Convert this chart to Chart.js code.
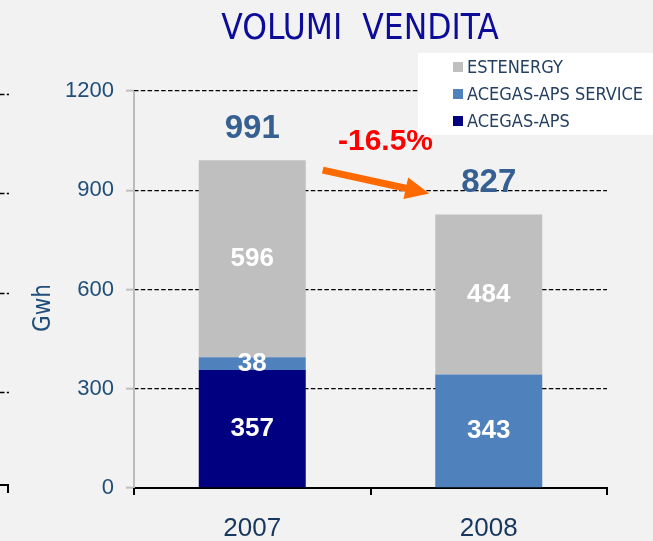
<!DOCTYPE html>
<html>
<head>
<meta charset="utf-8">
<script src="https://cdn.jsdelivr.net/npm/chart.js@4.4.1/dist/chart.umd.min.js"></script>
<style>
  html, body { margin: 0; padding: 0; background: #f2f2f2; }
  #wrap { width: 653px; height: 541px; position: relative; }
</style>
</head>
<body>
<div id="wrap"><canvas id="chart"></canvas></div>
<script>
// data
const years = ['2007', '2008'];
const seriesNames = ['ACEGAS-APS', 'ACEGAS-APS SERVICE', 'ESTENERGY'];
const acegasAps = [357, 0];
const acegasApsService = [38, 343];
const estenergy = [596, 484];
const yTicks = [0, 300, 600, 900, 1200];
const changeLabel = '-16.5%';
const chartTitle = 'VOLUMI  VENDITA';
const axisTitle = 'Gwh';

const seriesColors = ['#000080', '#4f81bd', '#bfbfbf'];
const NARROW = '"Liberation Sans Narrow", "DejaVu Sans Condensed", "Liberation Sans", sans-serif';
const SANS = '"Liberation Sans", Arial, sans-serif';

const totals = years.map((y, i) => acegasAps[i] + acegasApsService[i] + estenergy[i]);

// everything drawn on top of the bars: axis line, title, labels, arrow, legend
const overlay = {
    id: 'overlay',
    afterDraw(chart) {
        const ctx = chart.ctx;
        const yScale = chart.scales.y;
        const area = chart.chartArea;
        ctx.save();

        // grey y axis line
        ctx.fillStyle = '#bcbcbc';
        ctx.fillRect(Math.round(area.left) - 1, Math.round(area.top), 2, Math.round(area.bottom - area.top));

        // title
        ctx.fillStyle = '#0c0c99';
        ctx.font = '35px ' + NARROW;
        ctx.textAlign = 'center';
        ctx.textBaseline = 'middle';
        ctx.fillText(chartTitle, 360, 30);

        // y axis title
        ctx.save();
        ctx.translate(44, 308);
        ctx.rotate(-Math.PI / 2);
        ctx.fillStyle = '#1f4e79';
        ctx.font = '24px ' + NARROW;
        ctx.fillText(axisTitle, 0, 0);
        ctx.restore();

        // segment values
        ctx.fillStyle = '#ffffff';
        ctx.font = 'bold 26px ' + SANS;
        chart.data.datasets.forEach((ds, di) => {
            const meta = chart.getDatasetMeta(di);
            meta.data.forEach((el, i) => {
                if (!ds.data[i]) return;
                ctx.fillText(String(ds.data[i]), el.x, (el.y + el.base) / 2);
            });
        });

        // totals above the stacks
        const bars = chart.getDatasetMeta(0).data;
        ctx.fillStyle = '#376092';
        ctx.font = 'bold 33px ' + SANS;
        bars.forEach((el, i) => {
            ctx.fillText(String(totals[i]), el.x, yScale.getPixelForValue(totals[i]) - 31);
        });

        // change label and arrow
        const top0 = yScale.getPixelForValue(totals[0]);
        const top1 = yScale.getPixelForValue(totals[1]);
        ctx.fillStyle = '#ff0000';
        ctx.font = 'bold 30px ' + SANS;
        ctx.fillText(changeLabel, (bars[0].x + bars[1].x) / 2 + 15, top0 - 18);

        const x1 = bars[0].x + bars[0].width / 2 + 17, y1 = top0 + 10;
        const x2 = bars[1].x - bars[1].width / 2 - 6, y2 = top1 - 21;
        const ang = Math.atan2(y2 - y1, x2 - x1);
        const len = Math.hypot(x2 - x1, y2 - y1);
        const headLen = 24, headW = 11, shaft = 3.5;
        ctx.save();
        ctx.translate(x1, y1);
        ctx.rotate(ang);
        ctx.fillStyle = '#ff6a00';
        ctx.beginPath();
        ctx.moveTo(0, -shaft);
        ctx.lineTo(len - headLen, -shaft);
        ctx.lineTo(len - headLen, -headW);
        ctx.lineTo(len, 0);
        ctx.lineTo(len - headLen, headW);
        ctx.lineTo(len - headLen, shaft);
        ctx.lineTo(0, shaft);
        ctx.closePath();
        ctx.fill();
        ctx.restore();

        // legend box, top series first
        ctx.fillStyle = '#ffffff';
        ctx.fillRect(418, 53, 235, 82);
        ctx.textAlign = 'left';
        ctx.font = '18px ' + NARROW;
        const order = [2, 1, 0];
        order.forEach((di, row) => {
            const cy = 67 + row * 27;
            ctx.fillStyle = chart.data.datasets[di].backgroundColor;
            ctx.fillRect(453, cy - 5, 10, 10);
            ctx.fillStyle = '#243f60';
            ctx.fillText(chart.data.datasets[di].label, 467, cy + 1);
        });

        // cut-off edge of the neighbouring chart
        ctx.strokeStyle = '#000';
        ctx.lineWidth = 1.3;
        ctx.setLineDash([4.5, 2.3]);
        yTicks.slice(1).forEach(v => {
            const py = Math.round(yScale.getPixelForValue(v)) + 3.5;
            ctx.beginPath();
            ctx.moveTo(0, py);
            ctx.lineTo(9, py);
            ctx.stroke();
        });
        ctx.setLineDash([]);
        ctx.lineWidth = 2;
        ctx.beginPath();
        ctx.moveTo(0, 485);
        ctx.lineTo(8, 485);
        ctx.lineTo(8, 493);
        ctx.stroke();

        ctx.restore();
    }
};

new Chart(document.getElementById('chart'), {
    type: 'bar',
    data: {
        labels: years,
        datasets: [
            { label: seriesNames[0], data: acegasAps, backgroundColor: seriesColors[0] },
            { label: seriesNames[1], data: acegasApsService, backgroundColor: seriesColors[1] },
            { label: seriesNames[2], data: estenergy, backgroundColor: seriesColors[2] }
        ]
    },
    options: {
        responsive: true,
        maintainAspectRatio: false,
        animation: false,
        events: [],
        layout: { padding: { top: 91, right: 46, left: 0, bottom: 0 } },
        datasets: { bar: { categoryPercentage: 1, barPercentage: 0.4524, borderWidth: 0 } },
        plugins: { legend: { display: false }, title: { display: false }, tooltip: { enabled: false } },
        scales: {
            x: {
                stacked: true,
                offset: true,
                ticks: { color: '#17375e', font: { family: SANS, size: 26 }, padding: 18 },
                grid: { drawOnChartArea: false, color: '#000', lineWidth: 2, tickLength: 7, offset: true },
                border: { display: true, color: '#000', width: 2 },
                afterFit: s => { s.height = 53; }
            },
            y: {
                stacked: true,
                min: 0,
                max: 1200,
                afterBuildTicks: s => { s.ticks = yTicks.map(v => ({ value: v })); },
                ticks: { color: '#1f4e79', font: { family: SANS, size: 22 }, padding: 12, callback: v => String(v) },
                grid: { color: '#000', lineWidth: 1.3, tickColor: '#bfbfbf', tickLength: 8, tickWidth: 2, tickBorderDash: [] },
                border: { display: false, dash: [4.5, 2.3] },
                afterFit: s => { s.width = 134; }
            }
        }
    },
    plugins: [overlay]
});
</script>
</body>
</html>
